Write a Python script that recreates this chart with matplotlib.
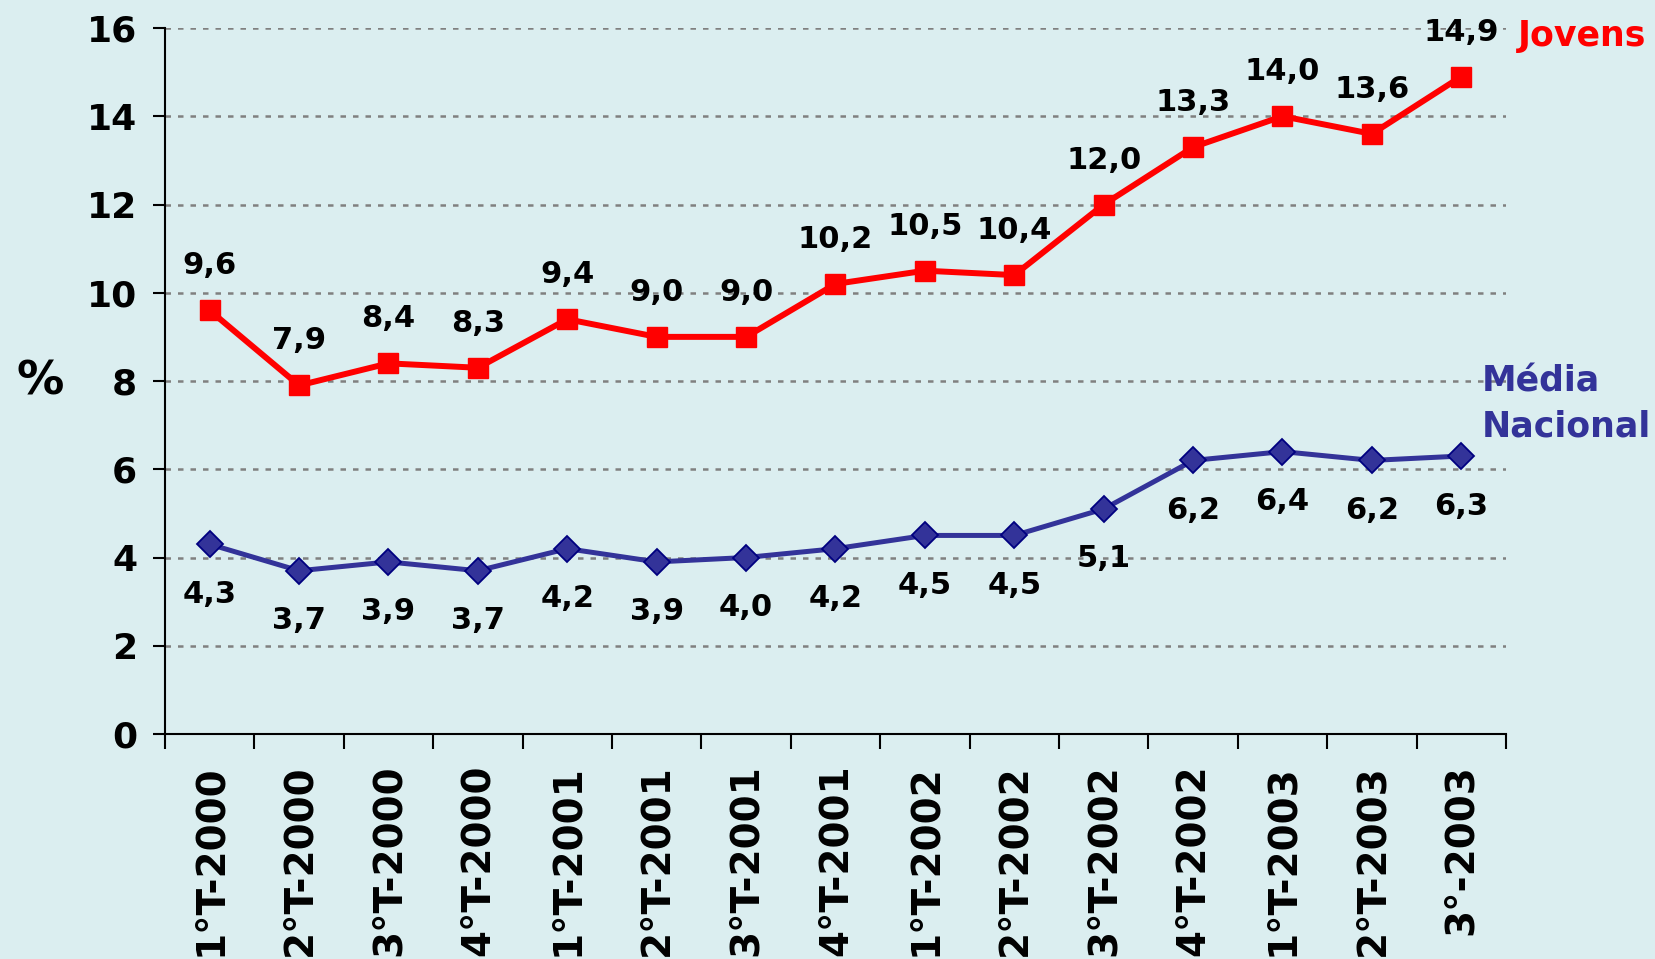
import matplotlib
matplotlib.use("Agg")
import matplotlib.pyplot as plt
import numpy as np

categories = ["1°T-2000", "2°T-2000", "3°T-2000", "4°T-2000",
              "1°T-2001", "2°T-2001", "3°T-2001", "4°T-2001",
              "1°T-2002", "2°T-2002", "3°T-2002", "4°T-2002",
              "1°T-2003", "2°T-2003", "3°-2003"]
jovens = [9.6, 7.9, 8.4, 8.3, 9.4, 9.0, 9.0, 10.2, 10.5, 10.4, 12.0, 13.3, 14.0, 13.6, 14.9]
media = [4.3, 3.7, 3.9, 3.7, 4.2, 3.9, 4.0, 4.2, 4.5, 4.5, 5.1, 6.2, 6.4, 6.2, 6.3]
yticks = [0, 2, 4, 6, 8, 10, 12, 14, 16]

bg = "#DBEEF0"
W, H = 1655, 959
fig = plt.figure(figsize=(W / 100, H / 100), dpi=100, facecolor=bg)
ax = fig.add_axes([165 / W, 1 - 734 / H, (1506 - 165) / W, (734 - 28) / H])
ax.set_facecolor(bg)

x = np.arange(len(categories))
ax.plot(x, jovens, color="#FF0000", lw=4.3, marker="s", ms=14.5, mfc="#FF0000", mec="#FF0000", zorder=4, clip_on=False)
ax.plot(x, media, color="#333399", lw=3.6, marker="D", ms=13.5, mfc="#333399", mec="#000080", mew=1.3, zorder=4, clip_on=False)

lab_font = dict(family="DejaVu Sans", weight="bold", size=22, color="black")
for xi, v in zip(x, jovens):
    ax.annotate(f"{v:.1f}".replace(".", ","), (xi, v), xytext=(0, 32), textcoords="offset points",
                ha="center", va="center", **lab_font)
for xi, v in zip(x, media):
    ax.annotate(f"{v:.1f}".replace(".", ","), (xi, v), xytext=(0, -36), textcoords="offset points",
                ha="center", va="center", **lab_font)

ax.set_xlim(-0.5, len(categories) - 0.5)
ax.set_ylim(0, 16)
ax.set_yticks(yticks)
ax.set_yticklabels([str(t) for t in yticks], fontfamily="DejaVu Sans", fontweight="bold", fontsize=26)
ax.set_xticks(np.arange(-0.5, len(categories), 1.0))
ax.set_xticklabels([])
ax.set_xticks(x, minor=True)
ax.set_xticklabels(categories, minor=True, rotation=90, fontfamily="DejaVu Sans",
                   fontweight="bold", fontsize=28, va="top", ha="center")
ax.tick_params(axis="x", which="minor", length=0, pad=22)
ax.tick_params(axis="x", which="major", length=11, width=1.5, direction="out")
ax.tick_params(axis="y", length=9, width=1.5, direction="out", pad=11)

for s in ["top", "right"]:
    ax.spines[s].set_visible(False)
for s in ["left", "bottom"]:
    ax.spines[s].set_linewidth(1.5)

for t in yticks[1:]:
    ax.axhline(t, color="#808080", lw=1.8, ls=(0, (2.2, 2.8)), zorder=1)

fig.text(40 / W, 1 - 382 / H, "%", fontfamily="DejaVu Sans", fontweight="bold", fontsize=34,
         ha="center", va="center")
fig.text(1518 / W, 1 - 36 / H, "Jovens", fontfamily="DejaVu Sans", fontweight="bold", fontsize=25,
         color="#FF0000", ha="left", va="center")
fig.text(1482 / W, 1 - 404 / H, "Média\nNacional", fontfamily="DejaVu Sans", fontweight="bold", fontsize=25,
         color="#333399", ha="left", va="center", linespacing=1.4)

fig.savefig("out.png", dpi=100, facecolor=bg)
